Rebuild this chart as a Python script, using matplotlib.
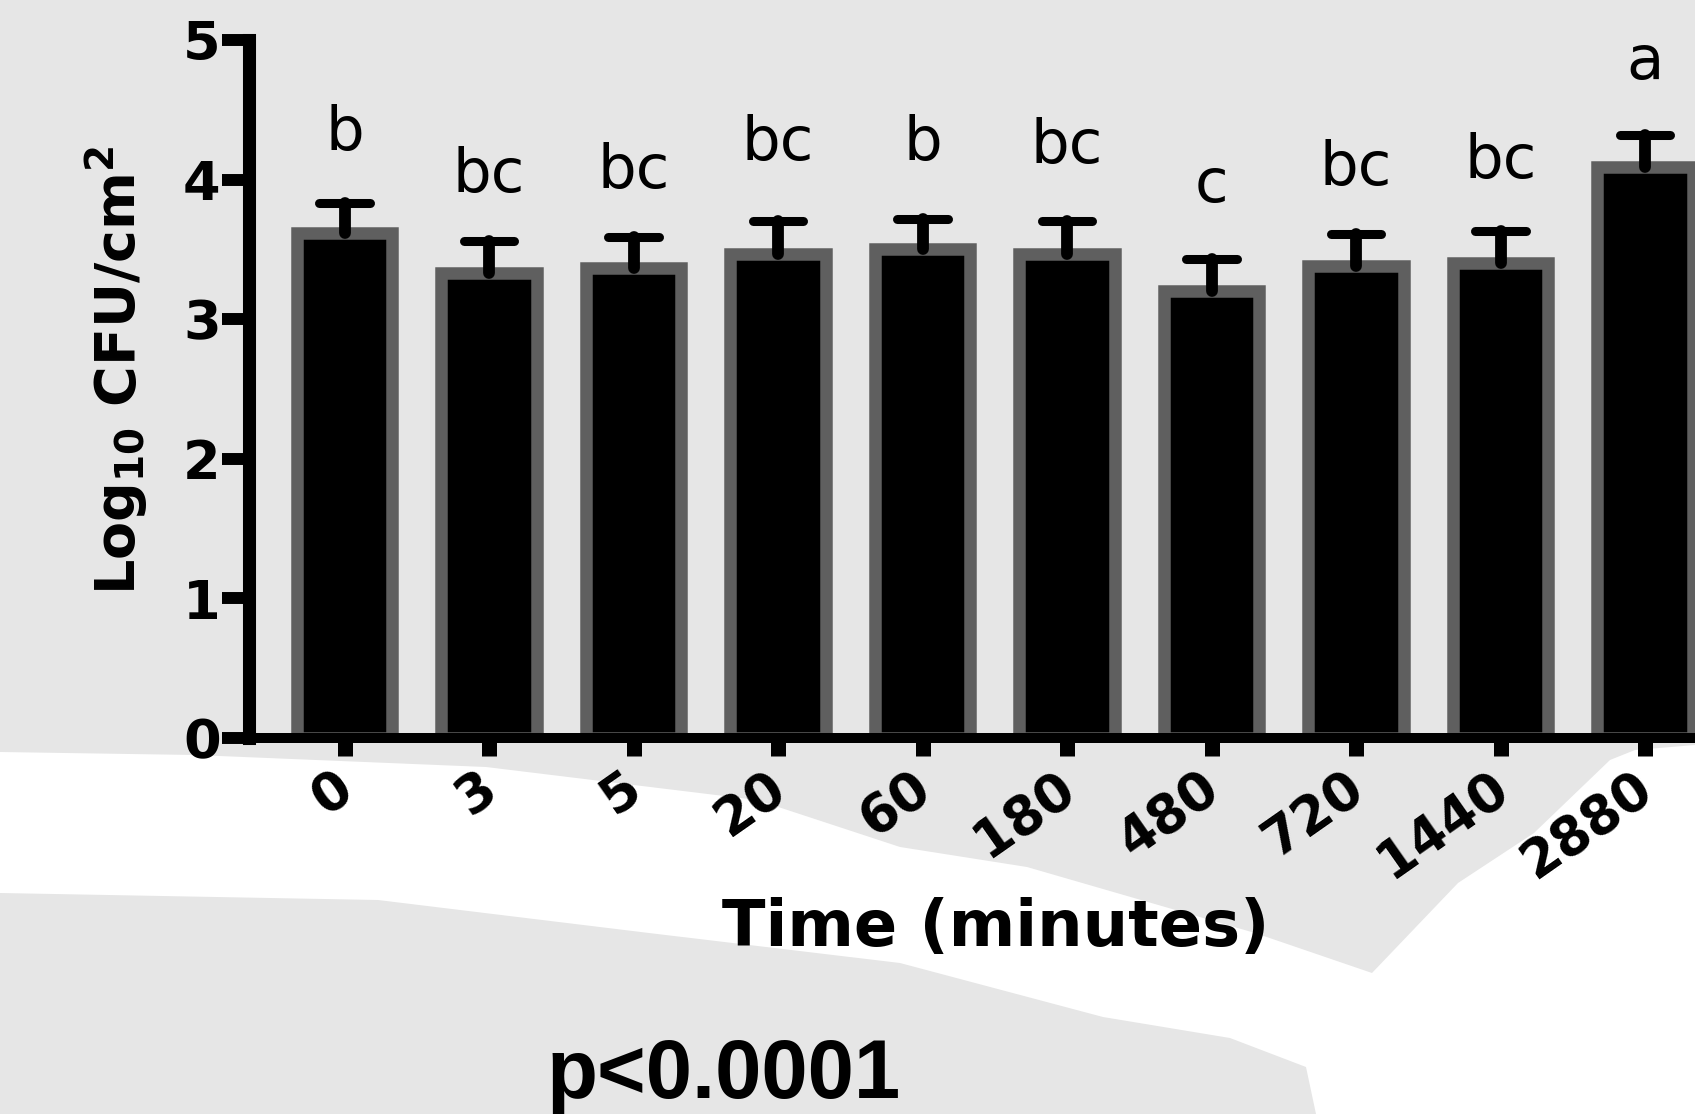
import numpy as np
import matplotlib.pyplot as plt
from matplotlib.patches import Polygon
from matplotlib.transforms import ScaledTranslation

# data (log10 CFU/cm2, mean and upper error)
times = ["0", "3", "5", "20", "60", "180", "480", "720", "1440", "2880"]
mean_log = [3.62, 3.33, 3.37, 3.47, 3.50, 3.47, 3.20, 3.38, 3.40, 4.09]
sem_log = [0.21, 0.23, 0.22, 0.23, 0.22, 0.23, 0.23, 0.23, 0.23, 0.23]
groups = ["b", "bc", "bc", "bc", "b", "bc", "c", "bc", "bc", "a"]
group_y = [4.21, 3.91, 3.94, 4.14, 4.14, 4.12, 3.84, 3.96, 4.01, 4.72]

W, H = 1695, 1114
fig = plt.figure(figsize=(W / 100, H / 100), dpi=100, facecolor="white")

# grey page background with the white streaks (pixel coords, y downwards)
upper = [(0, 0), (1695, 0), (1695, 745), (1635, 750), (1610, 760), (1534, 833),
         (1458, 883), (1372, 973), (1255, 933), (1027, 867), (900, 847),
         (757, 800), (486, 767), (195, 755), (0, 752)]
lower = [(0, 893), (378, 900), (649, 933), (900, 963), (1103, 1017),
         (1230, 1038), (1306, 1067), (1316, 1114), (0, 1114)]
for pts in (upper, lower):
    fig.patches.append(Polygon([(px / W, 1 - py / H) for px, py in pts],
                               closed=True, transform=fig.transFigure,
                               facecolor="#e6e6e6", edgecolor="none", zorder=-1))

ax = fig.add_axes([249 / W, 1 - 738 / H, 1 - 249 / W, (738 - 40) / H])
ax.patch.set_visible(False)

x = np.arange(len(times))
mean = np.array(mean_log)
top = mean + np.array(sem_log)

ax.bar(x, mean, width=0.66, color="black", edgecolor="#5f5f5f",
       linewidth=9, zorder=2)
ax.vlines(x, mean, top, color="black", lw=8.5, capstyle="round", zorder=3)
ax.hlines(top, x - 0.175, x + 0.175, color="black", lw=6.5,
          capstyle="round", zorder=3)

for xi, yi, g in zip(x, group_y, groups):
    ax.text(xi, yi, g, ha="center", va="baseline", fontsize=44, color="black")

ax.set_xlim(-0.661, 9.346)
ax.set_ylim(0, 5)

for side in ("top", "right"):
    ax.spines[side].set_visible(False)
ax.spines["left"].set_linewidth(9.4)
ax.spines["bottom"].set_linewidth(7.2)
ax.spines["left"].set_capstyle("projecting")
ax.spines["bottom"].set_capstyle("projecting")

ax.set_yticks(range(6))
ax.set_yticklabels([str(v) for v in range(6)], fontweight="bold")
ax.tick_params(axis="y", direction="out", length=19.4, width=8.6, pad=1,
               labelsize=39)
ax.set_xticks(x)
ax.set_xticklabels(times, rotation=35, ha="right", va="top",
                   rotation_mode="anchor", fontweight="bold")
ax.tick_params(axis="x", direction="out", length=13, width=10.8, pad=4,
               labelsize=38)
shift = ScaledTranslation(-12 / 100, 0, fig.dpi_scale_trans)
for lbl in ax.get_xticklabels():
    lbl.set_transform(lbl.get_transform() + shift)

ax.set_ylabel(r"Log$_{\mathregular{10}}$ CFU/cm$^{\mathregular{2}}$",
              fontsize=40, fontweight="bold")
ax.yaxis.set_label_coords(-0.068, 0.527)
ax.set_xlabel("Time (minutes)", fontsize=46, fontweight="bold")
ax.xaxis.set_label_coords(0.5166, -0.298)
ax.xaxis.label.set_va("baseline")

fig.text(724 / W, 1 - 1098 / H, "p<0.0001", fontsize=60, fontweight="bold",
         family="Liberation Sans", ha="center", va="baseline")

fig.savefig("out.png", dpi=100, facecolor=fig.get_facecolor())
